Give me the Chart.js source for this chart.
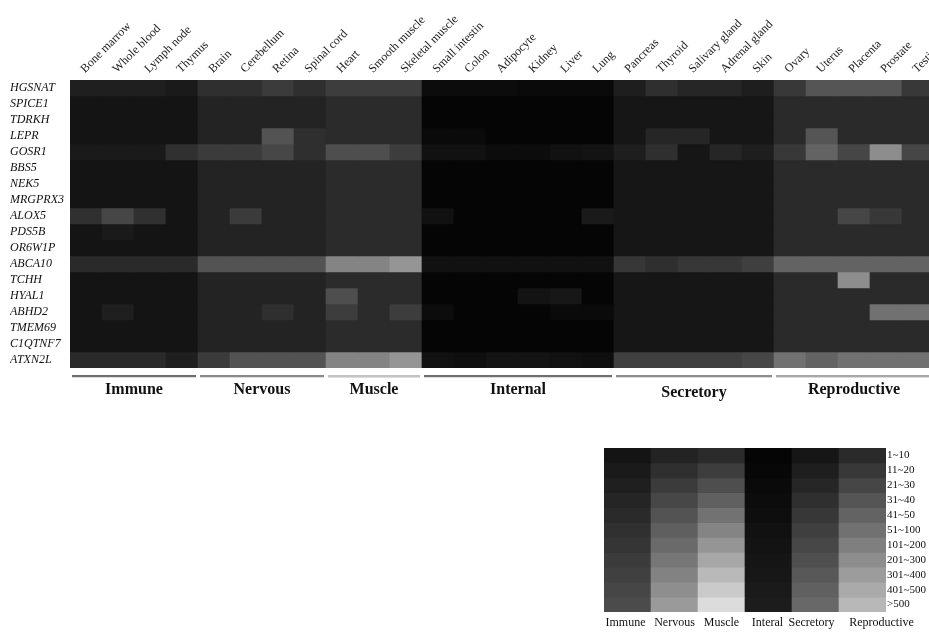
<!DOCTYPE html>
<html>
<head>
<meta charset="utf-8">
<script src="https://cdn.jsdelivr.net/npm/chart.js@4"></script>
<style>
  html, body { margin: 0; padding: 0; background: #fff; overflow: hidden; width: 929px; height: 632px; }
  #heat { position: absolute; left: 0; top: 0; }
  #key { position: absolute; left: 600px; top: 440px; }
</style>
</head>
<body>
<canvas id="heat" width="934" height="410"></canvas>
<canvas id="key" width="329" height="192"></canvas>
<script>
const tissues = [
  "Bone marrow", "Whole blood", "Lymph node", "Thymus",
  "Brain", "Cerebellum", "Retina", "Spinal cord",
  "Heart", "Smooth muscle", "Skeletal muscle",
  "Small intestin", "Colon", "Adipocyte", "Kidney", "Liver", "Lung",
  "Pancreas", "Thyroid", "Salivary gland", "Adrenal gland", "Skin",
  "Ovary", "Uterus", "Placenta", "Prostate", "Testis",
];
const systems = ["Immune", "Nervous", "Muscle", "Internal", "Secretory", "Reproductive"];
const systemSizes = [4, 4, 3, 6, 5, 5];
const genes = [
  "HGSNAT", "SPICE1", "TDRKH", "LEPR", "GOSR1", "BBS5", "NEK5", "MRGPRX3", "ALOX5",
  "PDS5B", "OR6W1P", "ABCA10", "TCHH", "HYAL1", "ABHD2", "TMEM69", "C1QTNF7", "ATXN2L",
];
const keySystems = ["Immune", "Nervous", "Muscle", "Interal", "Secretory", "Reproductive"];
const levelLabels = ["1~10", "11~20", "21~30", "31~40", "41~50", "51~100",
  "101~200", "201~300", "301~400", "401~500", ">500"];

// expression level per gene (1 = "1~10" ... 11 = ">500"), tissues in the order above
//             Imm        | Nerv       | Mus    | Int          | Sec        | Rep
const levels = [
  /* HGSNAT  */ [3,3,3,2, 2,2,3,2, 2,2,2, 4,4,4,3,3,3, 2,4,3,3,2, 2,4,4,4,2],
  /* SPICE1  */ [1,1,1,1, 1,1,1,1, 1,1,1, 1,1,1,1,1,1, 1,1,1,1,1, 1,1,1,1,1],
  /* TDRKH   */ [1,1,1,1, 1,1,1,1, 1,1,1, 1,1,1,1,1,1, 1,1,1,1,1, 1,1,1,1,1],
  /* LEPR    */ [1,1,1,1, 1,1,5,2, 1,1,1, 3,3,1,1,1,1, 1,3,3,1,1, 1,4,1,1,1],
  /* GOSR1   */ [2,2,2,6, 3,3,4,2, 3,3,2, 6,6,4,4,6,7, 2,4,1,3,2, 2,5,3,8,3],
  /* BBS5    */ [1,1,1,1, 1,1,1,1, 1,1,1, 1,1,1,1,1,1, 1,1,1,1,1, 1,1,1,1,1],
  /* NEK5    */ [1,1,1,1, 1,1,1,1, 1,1,1, 1,1,1,1,1,1, 1,1,1,1,1, 1,1,1,1,1],
  /* MRGPRX3 */ [1,1,1,1, 1,1,1,1, 1,1,1, 1,1,1,1,1,1, 1,1,1,1,1, 1,1,1,1,1],
  /* ALOX5   */ [6,10,6,1, 1,3,1,1, 1,1,1, 6,1,1,1,1,10, 1,1,1,1,1, 1,1,3,2,1],
  /* PDS5B   */ [1,2,1,1, 1,1,1,1, 1,1,1, 1,1,1,1,1,1, 1,1,1,1,1, 1,1,1,1,1],
  /* OR6W1P  */ [1,1,1,1, 1,1,1,1, 1,1,1, 1,1,1,1,1,1, 1,1,1,1,1, 1,1,1,1,1],
  /* ABCA10  */ [5,5,5,5, 5,5,5,5, 6,6,7, 6,6,6,6,6,6, 5,4,5,5,6, 5,5,5,5,5],
  /* TCHH    */ [1,1,1,1, 1,1,1,1, 1,1,1, 1,1,1,1,1,1, 1,1,1,1,1, 1,1,8,1,1],
  /* HYAL1   */ [1,1,1,1, 1,1,1,1, 3,1,1, 1,1,1,7,9,1, 1,1,1,1,1, 1,1,1,1,1],
  /* ABHD2   */ [1,3,1,1, 1,1,2,1, 2,1,2, 4,1,1,1,3,3, 1,1,1,1,1, 1,1,1,6,6],
  /* TMEM69  */ [1,1,1,1, 1,1,1,1, 1,1,1, 1,1,1,1,1,1, 1,1,1,1,1, 1,1,1,1,1],
  /* C1QTNF7 */ [1,1,1,1, 1,1,1,1, 1,1,1, 1,1,1,1,1,1, 1,1,1,1,1, 1,1,1,1,1],
  /* ATXN2L  */ [5,5,5,3, 3,5,5,5, 6,6,7, 6,5,7,7,6,5, 6,6,6,6,7, 6,5,6,6,6],
];

// grey ramp per system: [gray at level 1, gray at level 11]
const ramps = [[20, 75], [35, 154], [43, 220], [5, 28], [22, 104], [42, 184]];
const bandColors = ["#6f6f6f", "#8a8a8a", "#c4c4c4", "#707070", "#8c8c8c", "#a8a8a8"];
const keyLabelNudge = [-2, 0, 0, -1, -4, 19];   // the key's last caption sits right of its column
const serif = "'Liberation Serif', 'Times New Roman', serif";

function shade(sys, level) {
  const [lo, hi] = ramps[sys];
  const v = Math.round(lo + (hi - lo) * (level - 1) / 10);
  return `rgb(${v},${v},${v})`;
}

// system index for every tissue column
const systemOf = [];
systemSizes.forEach((n, s) => { for (let i = 0; i < n; i++) systemOf.push(s); });

const groupBands = {
  id: "groupBands",
  afterDraw(chart) {
    const { ctx, chartArea, scales: { x } } = chart;
    const colW = x.width / tissues.length;
    let start = 0;
    ctx.save();
    systems.forEach((name, g) => {
      const n = systemSizes[g];
      const left = x.left + start * colW;
      const w = n * colW;
      ctx.fillStyle = bandColors[g];
      ctx.fillRect(left + 2, chartArea.bottom + 7, w - 4, 2);
      ctx.fillStyle = "#dcdcdc";
      ctx.fillRect(left + 2, chartArea.bottom + 9, w - 4, 1);
      ctx.font = "bold 16px " + serif;
      ctx.fillStyle = "#111";
      ctx.textAlign = "center";
      ctx.textBaseline = "middle";
      ctx.fillText(name, left + w / 2, chartArea.bottom + 22 + (name === "Secretory" ? 3 : 0));
      start += n;
    });
    ctx.restore();
  },
};

// captions under the key columns (drawn by hand so the last one can sit off-centre)
const keyCaptions = {
  id: "keyCaptions",
  afterDraw(chart) {
    const { ctx, chartArea, scales: { x } } = chart;
    ctx.save();
    ctx.font = "12px " + serif;
    ctx.fillStyle = "#111";
    ctx.textAlign = "center";
    ctx.textBaseline = "middle";
    keySystems.forEach((name, i) => {
      ctx.fillText(name, x.getPixelForValue(i) + keyLabelNudge[i], chartArea.bottom + 11);
    });
    ctx.restore();
  },
};

const heatSets = genes.map((g, r) => ({
  label: g,
  data: tissues.map(() => [r, r + 1]),
  backgroundColor: levels[r].map((lv, c) => shade(systemOf[c], lv)),
  borderWidth: 0,
  barPercentage: 1,
  categoryPercentage: 1,
  grouped: false,
}));

new Chart(document.getElementById("heat"), {
  type: "bar",
  data: { labels: tissues, datasets: heatSets },
  plugins: [groupBands],
  options: {
    responsive: false,
    animation: false,
    layout: { padding: { left: 10, top: 0, right: 0, bottom: 42 } },
    plugins: { legend: { display: false }, tooltip: { enabled: false } },
    scales: {
      x: {
        position: "top",
        grid: { display: false, drawTicks: false },
        border: { display: false },
        ticks: {
          autoSkip: false, minRotation: 45, maxRotation: 45, padding: 4, labelOffset: 7,
          color: "#1a1a1a", font: { family: serif, size: 12 },
        },
        afterFit(s) { s.height = 80; s.paddingLeft = 0; s.paddingRight = 0; },
      },
      y: {
        min: 0, max: genes.length, reverse: true,
        grid: { display: false },
        border: { display: false },
        afterBuildTicks(s) { s.ticks = genes.map((_, i) => ({ value: i + 0.5 })); },
        afterFit(s) { s.width = 60; },
        ticks: {
          autoSkip: false, crossAlign: "far", padding: 4, color: "#111",
          font: { family: serif, style: "italic", size: 12 },
          callback: (v, i) => genes[i],
        },
      },
    },
  },
});

// colour key
const keySets = levelLabels.map((lab, k) => ({
  label: lab,
  data: keySystems.map(() => [k, k + 1]),
  backgroundColor: keySystems.map((_, s) => shade(s, k + 1)),
  borderWidth: 0,
  barPercentage: 1,
  categoryPercentage: 1,
  grouped: false,
}));

new Chart(document.getElementById("key"), {
  type: "bar",
  data: { labels: keySystems, datasets: keySets },
  plugins: [keyCaptions],
  options: {
    responsive: false,
    animation: false,
    layout: { padding: { left: 4, top: 8, right: 0, bottom: 0 } },
    plugins: { legend: { display: false }, tooltip: { enabled: false } },
    scales: {
      x: {
        grid: { display: false, drawTicks: false },
        border: { display: false },
        ticks: { display: false },
        afterFit(s) { s.height = 20; s.paddingLeft = 0; s.paddingRight = 0; },
      },
      y: {
        position: "right",
        min: 0, max: levelLabels.length, reverse: true,
        grid: { display: false, drawTicks: false },
        border: { display: false },
        afterBuildTicks(s) { s.ticks = levelLabels.map((_, i) => ({ value: i + 0.5 })); },
        afterFit(s) { s.width = 43; },
        ticks: {
          autoSkip: false, padding: 1, color: "#111",
          font: { family: serif, size: 11 },
          callback: (v, i) => levelLabels[i],
        },
      },
    },
  },
});
</script>
</body>
</html>
